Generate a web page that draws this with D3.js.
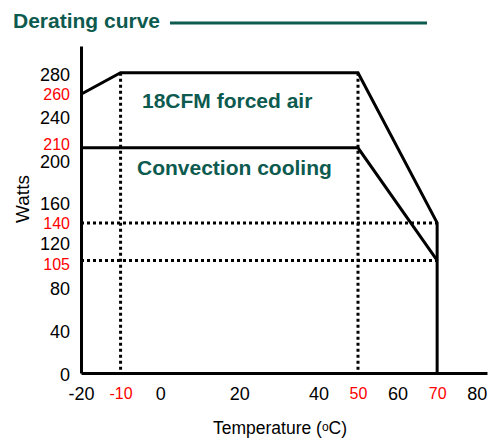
<!DOCTYPE html>
<html>
<head>
<meta charset="utf-8">
<script src="https://cdn.jsdelivr.net/npm/d3@7/dist/d3.min.js"></script>
<style>
  html, body { margin: 0; padding: 0; background: #fff; }
  svg { display: block; font-family: "Liberation Sans", Arial, sans-serif; }
</style>
</head>
<body>
<svg id="chart" width="490" height="439"></svg>
<script>
// ---- data ----
const xTicks = [-20, 0, 20, 40, 60, 80];
const xTicksRed = [-10, 50, 70];
const yTicks = [0, 40, 80, 120, 160, 200, 240, 280];
const yTicksRed = [105, 140, 210, 260];

const forcedTemp = [-20, -10, 50, 70, 70];
const forcedWatts = [260, 280, 280, 140, 0];
const convTemp = [-20, 50, 70];
const convWatts = [210, 210, 105];

const guideTemps = [-10, 50];      // vertical dotted lines (0 .. 280 W)
const guideWatts = [140, 105];     // horizontal dotted lines (-20 .. 70 C)

const titleText = "Derating curve";
const forcedLabel = "18CFM forced air";
const convLabel = "Convection cooling";

// ---- layout ----
const teal = "#0d5a4f";
const svg = d3.select("#chart");
const x = d3.scaleLinear().domain([-20, 82.6]).range([81, 487]);
const y = d3.scaleLinear().domain([0, 305]).range([373, 46]);
const fmt = d => String(d);
// small vertical nudges of crowded tick labels (px)
const labelNudge = { 200: 3, 120: -1, 210: -3, 105: 4 };

// title
svg.append("text").attr("x", 13).attr("y", 28)
  .attr("fill", teal).attr("font-weight", "bold").attr("font-size", 21)
  .text(titleText);
svg.append("line").attr("x1", 170).attr("x2", 427).attr("y1", 23).attr("y2", 23)
  .attr("stroke", teal).attr("stroke-width", 3);

// dotted guides
const g = svg.append("g");
guideTemps.forEach(t => {
  g.append("line")
    .attr("x1", x(t)).attr("x2", x(t)).attr("y1", y(280)).attr("y2", y(0))
    .attr("stroke", "#000").attr("stroke-width", 3).attr("stroke-dasharray", "3,3");
});
guideWatts.forEach(w => {
  g.append("line")
    .attr("x1", x(-20)).attr("x2", x(70)).attr("y1", y(w)).attr("y2", y(w))
    .attr("stroke", "#000").attr("stroke-width", 3).attr("stroke-dasharray", "3,3");
});

// curves
const line = d3.line().x(d => x(d[0])).y(d => y(d[1]));
svg.append("path").datum(forcedTemp.map((t, i) => [t, forcedWatts[i]]))
  .attr("d", line).attr("fill", "none").attr("stroke", "#000").attr("stroke-width", 3)
  .attr("stroke-linejoin", "miter");
svg.append("path").datum(convTemp.map((t, i) => [t, convWatts[i]]))
  .attr("d", line).attr("fill", "none").attr("stroke", "#000").attr("stroke-width", 3)
  .attr("stroke-linejoin", "miter");

// axes
function styleAxis(sel, color, size) {
  sel.attr("font-size", size).attr("font-family", "'Liberation Sans', Arial, sans-serif");
  sel.selectAll(".tick text").attr("fill", color).attr("font-size", size);
}
const yAxis = svg.append("g").attr("transform", `translate(${x(-20)},0)`)
  .call(d3.axisLeft(y).tickValues(yTicks).tickSize(0).tickPadding(11).tickFormat(fmt));
yAxis.select(".domain").attr("stroke", "#000").attr("stroke-width", 3);
styleAxis(yAxis, "#000", 18);
yAxis.selectAll(".tick text").attr("y", d => labelNudge[d] !== undefined ? labelNudge[d] : 2);

const yAxisRed = svg.append("g").attr("transform", `translate(${x(-20)},0)`)
  .call(d3.axisLeft(y).tickValues(yTicksRed).tickSize(0).tickPadding(11).tickFormat(fmt));
yAxisRed.select(".domain").remove();
styleAxis(yAxisRed, "#ff0000", 16);
yAxisRed.selectAll(".tick text").attr("y", d => labelNudge[d] || 0);

const xAxis = svg.append("g").attr("transform", `translate(0,${y(0)})`)
  .call(d3.axisBottom(x).tickValues(xTicks).tickSize(0).tickPadding(14).tickFormat(fmt));
xAxis.select(".domain").attr("stroke", "#000").attr("stroke-width", 3);
styleAxis(xAxis, "#000", 18);

const xAxisRed = svg.append("g").attr("transform", `translate(0,${y(0)})`)
  .call(d3.axisBottom(x).tickValues(xTicksRed).tickSize(0).tickPadding(15).tickFormat(fmt));
xAxisRed.select(".domain").remove();
styleAxis(xAxisRed, "#ff0000", 16);

// curve labels
svg.append("text").attr("x", 142).attr("y", 108)
  .attr("fill", teal).attr("font-weight", "bold").attr("font-size", 21).text(forcedLabel);
svg.append("text").attr("x", 137).attr("y", 175)
  .attr("fill", teal).attr("font-weight", "bold").attr("font-size", 21).text(convLabel);

// axis titles
svg.append("text").attr("transform", "translate(29,199) rotate(-90)")
  .attr("text-anchor", "middle").attr("font-size", 19).attr("fill", "#000").text("Watts");
const xt = svg.append("text").attr("x", 280).attr("y", 434)
  .attr("text-anchor", "middle").attr("font-size", 17.5).attr("fill", "#000");
xt.append("tspan").text("Temperature (");
xt.append("tspan").attr("font-size", 12).attr("dy", -3).text("o");
xt.append("tspan").attr("dy", 3).text("C)");
</script>
</body>
</html>
